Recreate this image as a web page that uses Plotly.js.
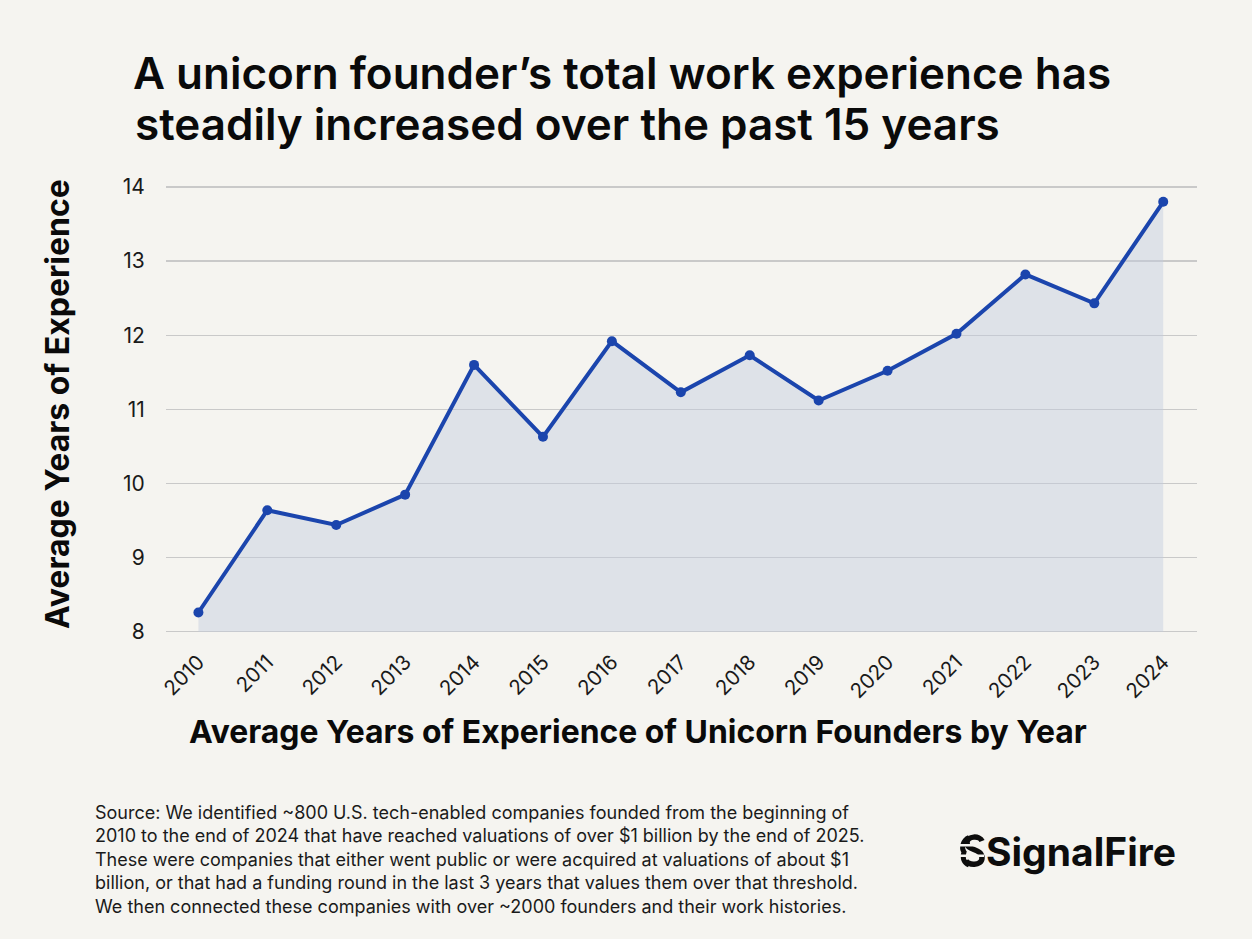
<!DOCTYPE html>
<html>
<head>
<meta charset="utf-8">
<script src="https://cdn.plot.ly/plotly-3.0.1.min.js"></script>
<style>
  html, body { margin: 0; padding: 0; background: #f5f4f0; }
  #chart { width: 1252px; height: 939px; }
</style>
</head>
<body>
<div id="chart"></div>
<script>
const years = [2010, 2011, 2012, 2013, 2014, 2015, 2016, 2017, 2018, 2019, 2020, 2021, 2022, 2023, 2024];
const avgExperience = [8.26, 9.64, 9.44, 9.85, 11.60, 10.63, 11.92, 11.23, 11.73, 11.12, 11.52, 12.02, 12.82, 12.43, 13.80];
const yTicks = [8, 9, 10, 11, 12, 13, 14];
const tickLabels = years.map(String);

const W = 1252, H = 939;
const M = { l: 166, r: 55, t: 184, b: 305 };
const PW = W - M.l - M.r, PH = H - M.t - M.b;
const px = v => (v - M.l) / PW;
const py = v => (H - M.b - v) / PH;

const BG = '#f5f4f0';
const LINE = '#1b45ad';
const FONT = 'Inter, "Noto Sans", sans-serif';

// baseline at the lowest tick so the area fill stops at the 8 gridline
const baseline = {
  x: years,
  y: years.map(() => yTicks[0]),
  type: 'scatter',
  mode: 'lines',
  line: { width: 0, color: 'rgba(0,0,0,0)' },
  hoverinfo: 'skip'
};

const trace = {
  x: years,
  y: avgExperience,
  type: 'scatter',
  mode: 'lines+markers',
  fill: 'tonexty',
  fillcolor: 'rgba(196, 203, 222, 0.45)',
  line: { color: LINE, width: 4 },
  marker: { color: LINE, size: 10 },
  cliponaxis: false,
  hoverinfo: 'x+y'
};

function sPath(x0) {
  const p = (x, y) => px(x).toFixed(5) + ',' + py(y).toFixed(5);
  return 'M' + p(x0 + 17, 841) +
    ' C' + p(x0 + 15, 835.5) + ' ' + p(x0 + 2, 835.5) + ' ' + p(x0 + 2, 843) +
    ' C' + p(x0 + 2, 851) + ' ' + p(x0 + 17, 848) + ' ' + p(x0 + 17, 858) +
    ' C' + p(x0 + 17, 866) + ' ' + p(x0 + 2, 866) + ' ' + p(x0 + 1, 860);
}
function arcPath(x0) {
  const p = (x, y) => px(x).toFixed(5) + ',' + py(y).toFixed(5);
  return 'M' + p(x0 + 7, 837.5) + ' C' + p(x0 + 1, 840) + ' ' + p(x0 - 1, 848) + ' ' + p(x0 + 2, 852) +
    ' C' + p(x0 + 0, 858) + ' ' + p(x0 + 2, 863) + ' ' + p(x0 + 7, 865);
}

const shapes = [
  { type: 'path', xref: 'paper', yref: 'paper', path: arcPath(962), line: { color: '#0d0d0d', width: 5 } },
  { type: 'path', xref: 'paper', yref: 'paper', path: sPath(965), line: { color: '#0d0d0d', width: 5.5 } },
  { type: 'rect', xref: 'paper', yref: 'paper', x0: px(955), x1: px(984), y0: py(844), y1: py(846.5), fillcolor: BG, line: { width: 0 } },
  { type: 'rect', xref: 'paper', yref: 'paper', x0: px(955), x1: px(984), y0: py(854.5), y1: py(857), fillcolor: BG, line: { width: 0 } }
];

const titleLine1 = 'A unicorn founder’s total work experience has';
const titleLine2 = 'steadily increased over the past 15 years';

const sourceText = 'Source: We identified ~800 U.S. tech-enabled companies founded from the beginning of<br>' +
  '2010 to the end of 2024 that have reached valuations of over $1 billion by the end of 2025.<br>' +
  'These were companies that either went public or were acquired at valuations of about $1<br>' +
  'billion, or that had a funding round in the last 3 years that values them over that threshold.<br>' +
  'We then connected these companies with over ~2000 founders and their work histories.';

const layout = {
  width: W,
  height: H,
  margin: M,
  paper_bgcolor: BG,
  plot_bgcolor: BG,
  showlegend: false,
  title: {
    text: titleLine1,
    font: { family: FONT, size: 44, color: '#0a0a0a', weight: 600 },
    xref: 'container', yref: 'container',
    x: 133 / W, xanchor: 'left',
    y: 1 - 74 / H, yanchor: 'middle'
  },
  xaxis: {
    type: 'linear',
    range: [2009.53, 2024.49],
    tickmode: 'array',
    tickvals: years,
    ticktext: tickLabels,
    tickangle: -45,
    tickfont: { family: FONT, size: 20.5, color: '#1a1a1a' },
    showgrid: false,
    zeroline: false,
    showline: false,
    ticks: 'outside',
    ticklen: 7,
    tickcolor: 'rgba(0,0,0,0)',
    fixedrange: true
  },
  yaxis: {
    range: [7.97, 14.04],
    tickmode: 'array',
    tickvals: yTicks,
    tickfont: { family: FONT, size: 21, color: '#1a1a1a' },
    showgrid: true,
    gridcolor: '#c9c9c9',
    gridwidth: 1.3,
    zeroline: false,
    showline: false,
    ticks: 'outside',
    ticklen: 16,
    tickcolor: 'rgba(0,0,0,0)',
    fixedrange: true
  },
  shapes: shapes,
  annotations: [
    {
      text: titleLine2,
      xref: 'paper', yref: 'paper',
      x: px(133), y: py(124),
      xanchor: 'left', yanchor: 'middle',
      showarrow: false,
      font: { family: FONT, size: 44, color: '#0a0a0a', weight: 600 }
    },
    {
      text: 'Average Years of Experience',
      xref: 'paper', yref: 'paper',
      x: px(57), y: py(404),
      xanchor: 'center', yanchor: 'middle',
      textangle: -90, showarrow: false,
      font: { family: FONT, size: 32, color: '#0a0a0a', weight: 700 }
    },
    {
      text: 'Average Years of Experience of Unicorn Founders by Year',
      xref: 'paper', yref: 'paper',
      x: px(638), y: py(731),
      xanchor: 'center', yanchor: 'middle',
      showarrow: false,
      font: { family: FONT, size: 31.9, color: '#0a0a0a', weight: 700 }
    },
    {
      text: sourceText,
      xref: 'paper', yref: 'paper',
      x: px(93), y: py(800),
      xanchor: 'left', yanchor: 'top',
      align: 'left', showarrow: false,
      font: { family: FONT, size: 18, color: '#1a1a1a' }
    },
    {
      text: 'SignalFire',
      xref: 'paper', yref: 'paper',
      x: px(984), y: py(851),
      xanchor: 'left', yanchor: 'middle',
      showarrow: false,
      font: { family: FONT, size: 39, color: '#0d0d0d', weight: 700 }
    }
  ]
};

Plotly.newPlot('chart', [baseline, trace], layout, { displayModeBar: false, staticPlot: true });
</script>
</body>
</html>
